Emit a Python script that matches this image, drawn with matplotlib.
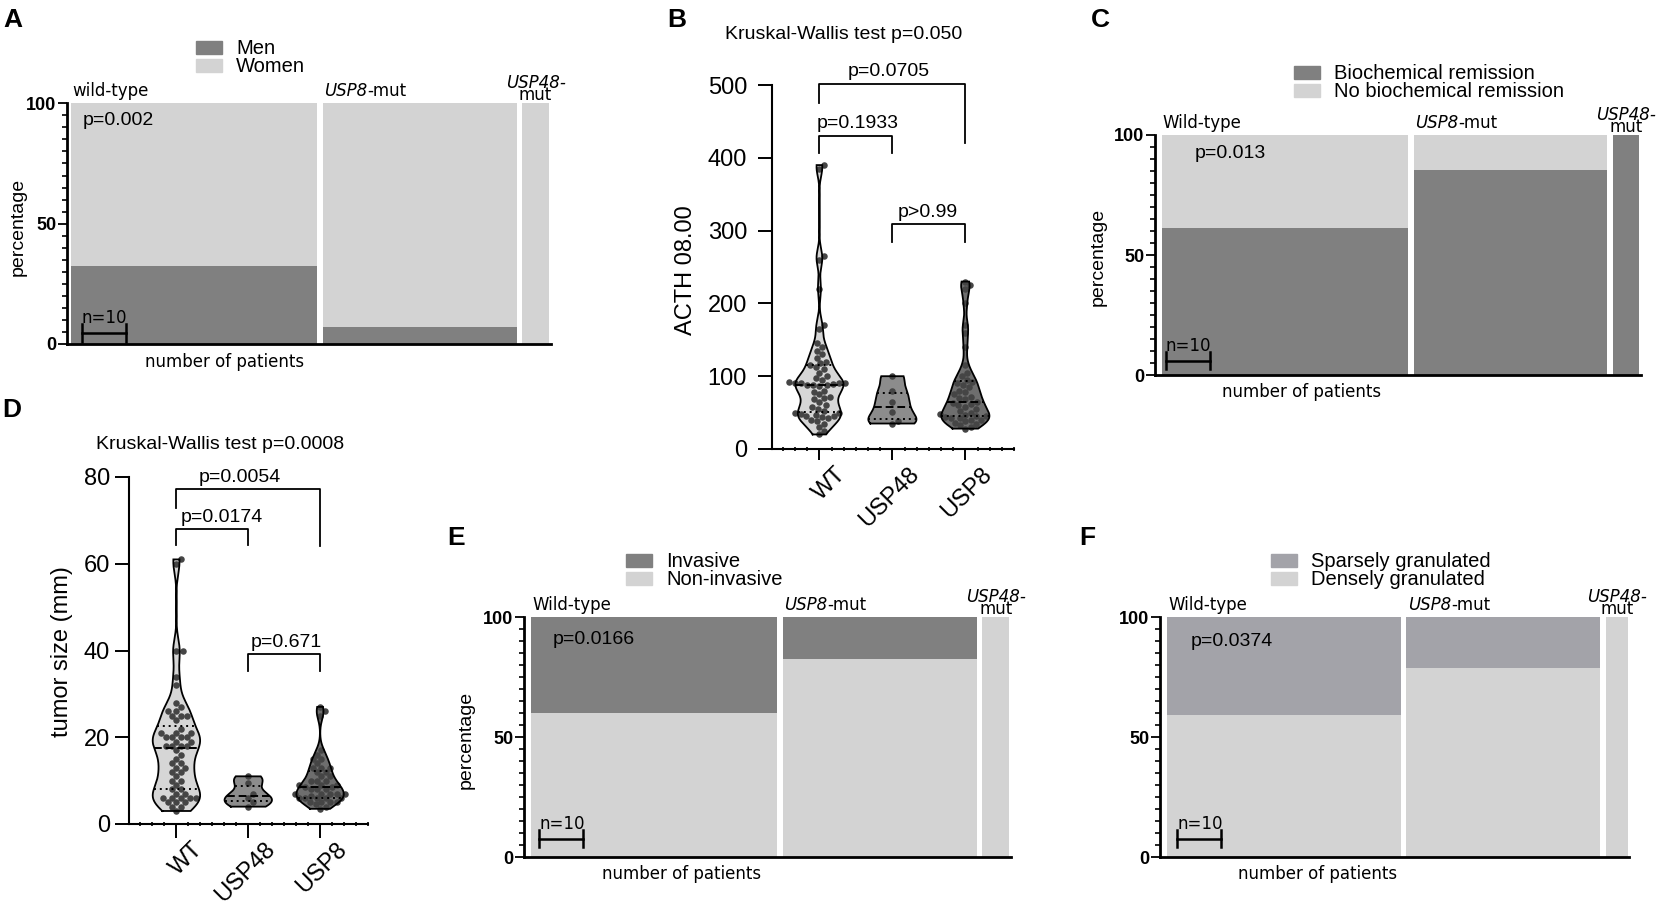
import numpy as np
import matplotlib
matplotlib.use("Agg")
import matplotlib.pyplot as plt
from matplotlib import mlab
from matplotlib.patches import Rectangle
from matplotlib.transforms import ScaledTranslation
from matplotlib.ticker import MultipleLocator

plt.rcParams['font.family'] = ['Liberation Sans', 'DejaVu Sans']

# ---------------- data ----------------
mosaic_groups = ['wild-type', 'USP8-mut', 'USP48-mut']
n_sex = [56, 44, 6]
men_pct = [32.5, 7.2, 0.0]
n_remission = [56, 44, 6]
remission_pct = [61.1, 85.4, 100.0]
n_invasion = [56, 44, 6]
invasive_pct = [39.9, 17.5, 0.0]
n_granulation = [53, 44, 5]
sparse_pct = [40.8, 21.2, 0.0]

violin_groups = ['WT', 'USP48', 'USP8']
acth_wt = [390, 385, 265, 260, 220, 170, 165, 145, 140, 135,
           130, 125, 120, 118, 115, 112, 110, 105, 100, 98,
           95, 92, 91, 90, 90, 90, 89, 88, 88, 88,
           87, 80, 78, 75, 72, 70, 68, 65, 60, 58,
           55, 52, 50, 50, 48, 47, 45, 45, 44, 42,
           40, 38, 35, 30, 25, 20]
acth_usp48 = [100, 80, 65, 51, 38, 35]
acth_usp8 = [230, 225, 220, 200, 170, 160, 140, 115, 105, 100,
             95, 92, 90, 88, 85, 80, 78, 75, 72, 70,
             68, 65, 63, 62, 60, 58, 55, 52, 50, 48,
             47, 45, 45, 44, 43, 42, 40, 40, 38, 36,
             35, 33, 30, 28]
size_wt = [61, 60, 40, 40, 34, 32, 28, 27, 26, 26,
           25, 25, 25, 24, 22, 21, 21, 21, 20, 20,
           20, 20, 19, 19, 18, 18, 18, 18, 17, 16,
           15, 14, 14, 13, 13, 12, 12, 11, 10, 10,
           9, 8, 8, 7, 7, 6, 6, 6, 6, 6,
           5, 5, 5, 4, 4, 3]
size_usp48 = [11, 9.5, 7, 6, 5, 4]
size_usp8 = [27, 26, 25, 17, 16, 15, 15, 14, 13, 13,
             13, 12, 12, 11, 11, 10, 10, 10, 9, 9,
             9, 8.5, 8.5, 8, 8, 8, 7, 7, 7, 7,
             7, 6.5, 6, 6, 6, 6, 6, 5, 5, 5,
             5, 4.5, 4, 3.5]

acth_brackets = [(0, 2, 501, 475, 420, 'p=0.0705', 0.95, 513),
                 (0, 1, 430, 407, 407, 'p=0.1933', 0.52, 440.5),
                 (1, 2, 309, 284, 284, 'p>0.99', 1.48, 319)]
size_brackets = [(0, 2, 77.2, 72.8, 64.0, 'p=0.0054', 0.88, 78.9),
                 (0, 1, 68.0, 64.4, 64.4, 'p=0.0174', 0.63, 69.7),
                 (1, 2, 39.2, 35.3, 35.3, 'p=0.671', 1.53, 40.8)]

# ---------------- layout helpers ----------------
W, H = 1665, 918
fig = plt.figure(figsize=(W / 100, H / 100), dpi=100)


def px_rect(x0, x1, ytop, ybot):
    return [x0 / W, 1 - ybot / H, (x1 - x0) / W, (ybot - ytop) / H]


def ftext(x, y, s, **kw):
    return fig.text(x / W, 1 - y / H, s, **kw)


DARK = '#808080'
LIGHT = '#d3d3d3'
PPP = 4.4
GAP = 1.3
SMALL = dict(fontfamily='DejaVu Sans', fontsize=12)


def italic_label(ax, x, y, ital, rest):
    t = ax.text(x, y, ital, fontstyle='italic', ha='left', va='baseline',
                clip_on=False, **SMALL)
    ax.annotate(rest, xy=(1, 0), xycoords=t, ha='left', va='bottom',
                annotation_clip=False, **SMALL)


def mosaic(axleft, ytop, ybot, xl, ns, pct, dark_top, dark_col, first_label,
           p_text, p_xy, sb_x, sb_y, nop_xy, legend_xy, leg_labels, ylab_xy):
    ns = np.asarray(ns, float)
    pct = np.asarray(pct, float)
    x1 = axleft + (xl[1] - xl[0]) * PPP
    ax = fig.add_axes(px_rect(axleft, x1, ytop, ybot))
    lefts = np.concatenate([[0.0], np.cumsum(ns[:-1] + GAP)])
    if dark_top:
        ax.bar(lefts, 100 - pct, width=ns, align='edge', color=LIGHT, lw=0)
        ax.bar(lefts, pct, bottom=100 - pct, width=ns, align='edge', color=dark_col, lw=0)
    else:
        ax.bar(lefts, pct, width=ns, align='edge', color=dark_col, lw=0)
        ax.bar(lefts, 100 - pct, bottom=pct, width=ns, align='edge', color=LIGHT, lw=0)
    ax.set_xlim(*xl)
    ax.set_ylim(0, 100)
    for s in ('top', 'right'):
        ax.spines[s].set_visible(False)
    for s in ('left', 'bottom'):
        ax.spines[s].set_linewidth(2.0)
    ax.set_xticks([])
    ax.set_yticks([0, 50, 100])
    ax.set_yticklabels(['0', '50', '100'], fontweight='bold')
    ax.yaxis.set_minor_locator(MultipleLocator(5))
    ax.tick_params(axis='y', which='major', length=6.5, width=1.3, labelsize=13, pad=1)
    ax.tick_params(axis='y', which='minor', length=3.5, width=1.2)
    # group labels
    ax.text(lefts[0] + 0.3, 103, first_label, ha='left', va='baseline', clip_on=False, **SMALL)
    italic_label(ax, lefts[1] + 0.3, 103, 'USP8', '-mut')
    c2 = lefts[2] + ns[2] / 2
    ax.text(c2, 106.3, 'USP48-', fontstyle='italic', ha='center', va='baseline',
            clip_on=False, **SMALL)
    ax.text(c2, 101.3, 'mut', ha='center', va='baseline', clip_on=False, **SMALL)
    # p value
    ax.text(p_xy[0], p_xy[1], p_text, ha='left', va='baseline', fontsize=14)
    # scale bar n=10
    ax.plot([sb_x, sb_x + 10], [sb_y, sb_y], color='black', lw=1.8, clip_on=False)
    for xx in (sb_x, sb_x + 10):
        ax.plot([xx, xx], [sb_y - 3.6, sb_y + 3.6], color='black', lw=1.8, clip_on=False)
    ax.text(sb_x, sb_y + 4.1, 'n=10', ha='left', va='baseline', clip_on=False, **SMALL)
    ax.text(nop_xy[0], nop_xy[1], 'number of patients', ha='center', va='center',
            clip_on=False, **SMALL)
    # legend
    lx, ly = legend_xy
    for i, (lab, col) in enumerate(zip(leg_labels, [dark_col, LIGHT])):
        top = ly + 18 * i
        fig.patches.append(Rectangle((lx / W, 1 - (top + 13) / H), 26 / W, 13 / H,
                                     transform=fig.transFigure, color=col))
        ftext(lx + 40, top + 13, lab, ha='left', va='baseline', fontsize=14.5)
    if ylab_xy is not None:
        ftext(ylab_xy[0], ylab_xy[1], 'percentage', rotation=90, ha='center', va='center',
              fontsize=14)
    return ax


mosaic(67, 103.3, 344, (-0.9, 109), n_sex, men_pct, False, DARK, 'wild-type',
       'p=0.002', (2.7, 91), 2.4, 4.6, (35.0, -7.5), (196, 41), ['Men', 'Women'], (18, 227))
mosaic(1155, 135, 375, (-1.5, 109), n_remission, remission_pct, False, DARK, 'Wild-type',
       'p=0.013', (7.5, 90.3), 1.0, 6.0, (31.9, -7.0), (1294, 66),
       ['Biochemical remission', 'No biochemical remission'], (1098, 257))
mosaic(524, 617, 857, (-1.6, 109), n_invasion, invasive_pct, True, DARK, 'Wild-type',
       'p=0.0166', (5.0, 88.7), 1.9, 7.6, (34.3, -7.0), (626, 554),
       ['Invasive', 'Non-invasive'], (466, 740))
mosaic(1160, 617, 857, (-1.7, 105), n_granulation, sparse_pct, True, '#a3a3a9', 'Wild-type',
       'p=0.0374', (5.2, 88.0), 2.2, 7.6, (34.2, -7.0), (1271, 554),
       ['Sparsely granulated', 'Densely granulated'], None)


# ---------------- violin panels ----------------
VCOLS = ['#d6d6d6', '#8c8c8c', '#6e6e6e']
DOT = '#454545'


def swarm_x(ax, pos, vals, d):
    vals = np.asarray(vals, float)
    pts = ax.transData.transform(np.column_stack([np.full(len(vals), pos), vals]))
    ypx = pts[:, 1]
    order = np.argsort(ypx, kind='stable')
    px_l, py_l = [], []
    off = np.zeros(len(vals))
    for i in order:
        y = ypx[i]
        ivs = []
        for a, b in zip(px_l, py_l):
            dy = abs(y - b)
            if dy < d:
                dx = np.sqrt(d * d - dy * dy)
                ivs.append((a - dx, a + dx))
        cands = [0.0] + [e for iv in ivs for e in iv]
        cands.sort(key=lambda c: (abs(c), -c))
        for c in cands:
            if all(not (lo + 1e-6 < c < hi - 1e-6) for lo, hi in ivs):
                off[i] = c
                break
        px_l.append(off[i])
        py_l.append(y)
    xper = ax.transData.transform((1, 0))[0] - ax.transData.transform((0, 0))[0]
    return pos + off / xper


def violin_panel(rect, xl, yl, yticks, datasets, bws, brackets, ylab, ylab_xy,
                 title, title_xy, ypad, xtick_len):
    ax = fig.add_axes(px_rect(*rect))
    ax.set_xlim(*xl)
    ax.set_ylim(*yl)
    for s in ('top', 'right'):
        ax.spines[s].set_visible(False)
    for s in ('left', 'bottom'):
        ax.spines[s].set_linewidth(1.5)
    for pos, (data, bw, col) in enumerate(zip(datasets, bws, VCOLS)):
        data = np.asarray(data, float)
        kde = mlab.GaussianKDE(data, bw)
        ys = np.linspace(data.min(), data.max(), 400)
        dens = kde.evaluate(ys)
        hw = 0.33 * dens / dens.max()
        ax.fill_betweenx(ys, pos - hw, pos + hw, facecolor=col, edgecolor='none', zorder=2)
        xo = np.concatenate([pos - hw, (pos + hw)[::-1], [pos - hw[0]]])
        yo = np.concatenate([ys, ys[::-1], [ys[0]]])
        ax.plot(xo, yo, color='black', lw=1.3, zorder=4, solid_joinstyle='miter')
        xs = swarm_x(ax, pos, data, 6.2)
        ax.scatter(xs, data, s=22, color=DOT, linewidths=0, zorder=3)
        q1, med, q3 = np.percentile(data, [25, 50, 75])
        for q, ls in ((q1, (0, (1, 2))), (med, (0, (4, 2))), (q3, (0, (1, 2)))):
            w = np.interp(q, ys, hw)
            ax.plot([pos - w, pos + w], [q, q], color='black', lw=1.4, ls=ls, zorder=5)
    for x0, x1, yt, y0e, y1e, txt, tx, ty in brackets:
        ax.plot([x0, x0, x1, x1], [y0e, yt, yt, y1e], color='black', lw=1.3, clip_on=False)
        ax.text(tx, ty, txt, ha='center', va='baseline', fontsize=14, clip_on=False)
    ax.set_yticks(yticks)
    ax.tick_params(axis='y', which='major', direction='out', length=10, width=1.4,
                   labelsize=17, pad=ypad)
    ax.set_xticks([0, 1, 2])
    ax.set_xticklabels([])
    ax.set_xticks(np.arange(-0.5, 2.67, 1 / 6), minor=True)
    ax.tick_params(axis='x', which='major', direction='out', length=xtick_len, width=1.4)
    ax.tick_params(axis='x', which='minor', direction='inout', length=3.5, width=1.2)
    off = ScaledTranslation(31 / 100, -14 / 100, fig.dpi_scale_trans)
    for pos, name in enumerate(violin_groups):
        ax.text(pos, 0, name, rotation=45, ha='right', va='top', fontsize=17,
                transform=ax.get_xaxis_transform() + off)
    ftext(ylab_xy[0], ylab_xy[1], ylab, rotation=90, ha='center', va='center', fontsize=17)
    ftext(title_xy[0], title_xy[1], title, ha='center', va='baseline', fontsize=14)
    return ax


violin_panel((772, 1014, 85, 449), (-0.65, 2.64), (0, 500), [0, 100, 200, 300, 400, 500],
             [acth_wt, acth_usp48, acth_usp8], [0.16, 0.4, 0.2], acth_brackets,
             'ACTH 08.00', (686, 270), 'Kruskal-Wallis test p=0.050', (843.5, 39), 8, 8)
violin_panel((129, 368, 477, 824), (-0.66, 2.66), (0, 80), [0, 20, 40, 60, 80],
             [size_wt, size_usp48, size_usp8], [0.22, 0.5, 0.3], size_brackets,
             'tumor size (mm)', (62.5, 652), 'Kruskal-Wallis test p=0.0008', (220, 449), 3.5, 10)

# ---------------- panel letters ----------------
for letter, (x, y) in zip('ABCDEF', [(3, 8), (667, 8), (1091, 8), (2, 398), (447, 526), (1079, 526)]):
    ftext(x, y, letter, ha='left', va='top', fontsize=19, fontweight='bold')

fig.savefig('out.png', dpi=100)
